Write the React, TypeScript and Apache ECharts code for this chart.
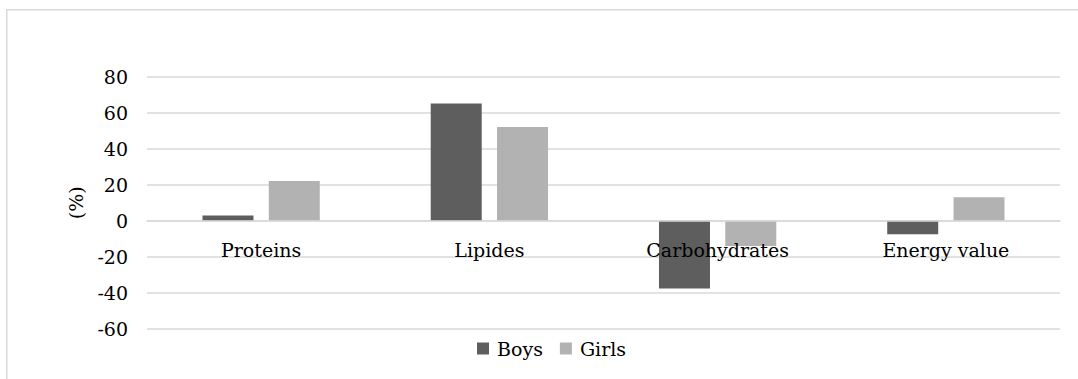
import React, { useEffect, useRef } from "react";
import * as echarts from "echarts";

// Relative deviation (%) of nutrient intake by sex
const categories = ["Proteins", "Lipides", "Carbohydrates", "Energy value"];
const boys = [3, 65, -37.5, -7.5];
const girls = [22, 52, -14, 13];
const yTicks = { min: -60, max: 80, interval: 20 };

const FONT = "DejaVu Serif";
const FONT_SIZE = 19;
const GRID_COLOR = "#d9d9d9";

// plot area geometry (px)
const GRID_TOP = 76.5;
const GRID_BOTTOM = 50;
const CHART_H = 379;

export default function App() {
  const ref = useRef<HTMLDivElement>(null);

  useEffect(() => {
    if (!ref.current) return;
    const chart = echarts.init(ref.current, undefined, { renderer: "svg" });
    // shift the category axis up from the plot bottom to the zero line
    const plotH = CHART_H - GRID_TOP - GRID_BOTTOM;
    const zeroShift = (plotH * (0 - yTicks.min)) / (yTicks.max - yTicks.min);
    const text = { fontFamily: FONT, fontSize: FONT_SIZE, color: "#000" };
    chart.setOption({
      animation: false,
      backgroundColor: "#ffffff",
      textStyle: { fontFamily: FONT, color: "#000" },
      graphic: [
        {
          type: "rect",
          shape: { x: 6.75, y: 9.75, width: 1300, height: 600 },
          style: { fill: "none", stroke: GRID_COLOR, lineWidth: 1.5 },
          silent: true,
          z: -10,
        },
      ],
      grid: {
        left: 147,
        right: 18,
        top: GRID_TOP,
        bottom: GRID_BOTTOM,
        containLabel: false,
        outerBoundsMode: "none",
      },
      legend: {
        left: 472,
        top: 334,
        itemWidth: 12,
        itemHeight: 12,
        itemGap: 17,
        icon: "rect",
        textStyle: { ...text, padding: [0, 0, 0, 3] },
        data: ["Boys", "Girls"],
      },
      xAxis: {
        type: "category",
        data: categories,
        z: 3,
        offset: -zeroShift,
        axisLine: { show: true, onZero: false, lineStyle: { color: GRID_COLOR, width: 1.5 } },
        axisTick: { show: false },
        axisLabel: { ...text, margin: 20, interval: 0 },
        splitLine: { show: false },
      },
      yAxis: {
        type: "value",
        min: yTicks.min,
        max: yTicks.max,
        interval: yTicks.interval,
        name: "(%)",
        nameLocation: "middle",
        nameGap: 62,
        nameRotate: 90,
        nameTextStyle: text,
        axisLine: { show: false },
        axisTick: { show: false },
        axisLabel: { ...text, margin: 19 },
        splitLine: { show: true, lineStyle: { color: GRID_COLOR, width: 1.5 } },
      },
      series: [
        {
          name: "Boys",
          type: "bar",
          data: boys,
          barWidth: 51,
          barGap: "30%",
          itemStyle: { color: "#5e5e5e" },
        },
        {
          name: "Girls",
          type: "bar",
          data: girls,
          barWidth: 51,
          barGap: "30%",
          itemStyle: { color: "#b2b2b2" },
        },
      ],
    });
    return () => chart.dispose();
  }, []);

  return (
    <div
      ref={ref}
      style={{ position: "fixed", left: 0, top: 0, width: 1078, height: CHART_H }}
    />
  );
}
